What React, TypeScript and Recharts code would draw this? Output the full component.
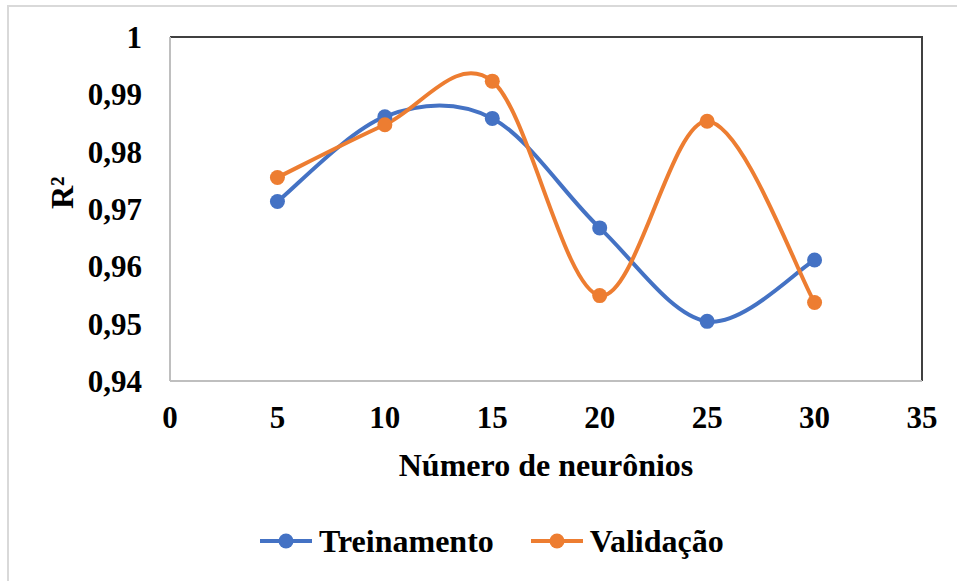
import { LineChart, Line, XAxis, YAxis } from "recharts";

const neuronios = [5, 10, 15, 20, 25, 30];
const treinamento = [0.9713, 0.9861, 0.9858, 0.9667, 0.9504, 0.9611];
const validacao = [0.9755, 0.9847, 0.9923, 0.9549, 0.9853, 0.9537];
const xTicks = [0, 5, 10, 15, 20, 25, 30, 35];
const yTicks = [0.94, 0.95, 0.96, 0.97, 0.98, 0.99, 1];

const data = neuronios.map((n, i) => ({ n, treinamento: treinamento[i], validacao: validacao[i] }));

const BLUE = "#4472C4";
const ORANGE = "#ED7D31";
const FONT = "'Liberation Serif', 'Times New Roman', serif";

// curva suave tipo Excel (Catmull-Rom uniforme)
const excelSmooth = (context: any) => {
  let pts: number[][] = [];
  return {
    areaStart() {},
    areaEnd() {},
    lineStart() {
      pts = [];
    },
    lineEnd() {
      if (!pts.length) return;
      context.moveTo(pts[0][0], pts[0][1]);
      for (let i = 0; i < pts.length - 1; i++) {
        const p0 = pts[i - 1] || pts[i];
        const p1 = pts[i];
        const p2 = pts[i + 1];
        const p3 = pts[i + 2] || p2;
        context.bezierCurveTo(
          p1[0] + (p2[0] - p0[0]) / 6,
          p1[1] + (p2[1] - p0[1]) / 6,
          p2[0] - (p3[0] - p1[0]) / 6,
          p2[1] - (p3[1] - p1[1]) / 6,
          p2[0],
          p2[1]
        );
      }
    },
    point(x: number, y: number) {
      pts.push([+x, +y]);
    },
  };
};

const fmt = (v: number) => String(v).replace(".", ",");

const series = [
  { name: "Treinamento", color: BLUE },
  { name: "Validação", color: ORANGE },
];

export default function App() {
  return (
    <div style={{ position: "absolute", left: 0, top: 0, width: 957, height: 581, background: "#fff", overflow: "hidden" }}>
      <div
        style={{
          position: "absolute",
          left: 7,
          top: 5,
          width: 960,
          height: 600,
          border: "2px solid #D9D9D9",
          boxSizing: "border-box",
        }}
      />
      <div style={{ position: "absolute", left: 0, top: 0 }}>
        <LineChart width={957} height={581} data={data} margin={{ top: 37, right: 35, bottom: 0, left: 0 }}>
          {/* moldura: topo e direita escuros, eixos cinza por cima */}
          <line x1={170} y1={37} x2={922} y2={37} stroke="#404040" strokeWidth={2} />
          <line x1={922} y1={36} x2={922} y2={381} stroke="#404040" strokeWidth={2} />
          <XAxis
            dataKey="n"
            type="number"
            domain={[0, 35]}
            ticks={xTicks}
            interval={0}
            tickLine={false}
            tickSize={0}
            tickMargin={25}
            stroke="#BFBFBF"
            strokeWidth={2}
            height={200}
            tick={{ fill: "#000", fontSize: 31, fontWeight: "bold", fontFamily: FONT }}
            label={{
              value: "Número de neurônios",
              position: "insideTop",
              offset: 72,
              fill: "#000",
              fontSize: 32,
              fontWeight: "bold",
              fontFamily: FONT,
            }}
          />
          <YAxis
            type="number"
            domain={[0.94, 1]}
            ticks={yTicks}
            interval={0}
            tickLine={false}
            tickSize={0}
            tickMargin={28}
            stroke="#BFBFBF"
            strokeWidth={2}
            width={170}
            tickFormatter={fmt}
            tick={{ fill: "#000", fontSize: 31, fontWeight: "bold", fontFamily: FONT }}
            label={{
              value: "R²",
              angle: -90,
              position: "insideLeft",
              offset: 62,
              fill: "#000",
              fontSize: 32,
              fontWeight: "bold",
              fontFamily: FONT,
            }}
          />
          <Line
            dataKey="treinamento"
            name="Treinamento"
            type={excelSmooth as any}
            stroke={BLUE}
            strokeWidth={4}
            dot={{ r: 7.5, fill: BLUE, stroke: BLUE, strokeWidth: 0 }}
            activeDot={false}
            isAnimationActive={false}
          />
          <Line
            dataKey="validacao"
            name="Validação"
            type={excelSmooth as any}
            stroke={ORANGE}
            strokeWidth={4}
            dot={{ r: 7.5, fill: ORANGE, stroke: ORANGE, strokeWidth: 0 }}
            activeDot={false}
            isAnimationActive={false}
          />
        </LineChart>
      </div>
      <div
        style={{
          position: "absolute",
          left: 259,
          top: 521,
          display: "flex",
          gap: 36,
          fontFamily: FONT,
          fontWeight: "bold",
          fontSize: 32,
          lineHeight: "40px",
        }}
      >
        {series.map((it) => (
          <div key={it.name} style={{ display: "flex", alignItems: "center" }}>
            <svg width={54} height={20} style={{ marginRight: 6 }}>
              <line x1={1} y1={10} x2={53} y2={10} stroke={it.color} strokeWidth={4} />
              <circle cx={27} cy={10} r={7.5} fill={it.color} />
            </svg>
            <span>{it.name}</span>
          </div>
        ))}
      </div>
    </div>
  );
}
